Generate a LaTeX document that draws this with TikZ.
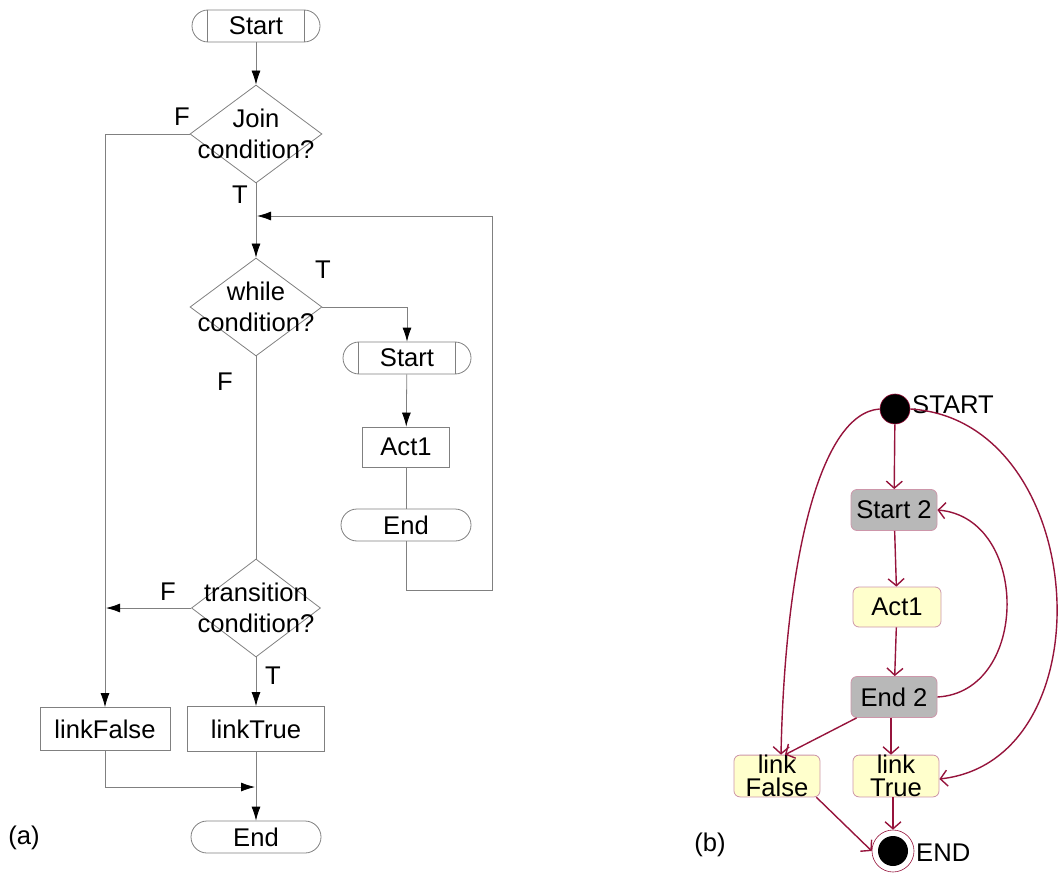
\documentclass[tikz,border=0pt]{standalone}
\usepackage{fontspec}
\setmainfont{Liberation Sans}
\usetikzlibrary{shapes.geometric,arrows.meta}
\definecolor{flowline}{RGB}{128,128,128}
\definecolor{edgered}{RGB}{150,20,60}
\definecolor{boxrim}{RGB}{205,150,170}
\definecolor{greyfill}{RGB}{184,184,184}
\definecolor{paleyellow}{RGB}{255,255,204}
\begin{document}
\begin{tikzpicture}[x=1pt,y=-1pt,
  font=\fontsize{25.6}{30}\selectfont,
  flow/.style={draw=flowline,line width=0.8pt},
  flowarrow/.style={flow,-{Latex[length=14pt,width=9pt,color=black]}},
  terminal/.style={flow,rectangle,rounded corners=16pt,minimum width=128pt,minimum height=32pt,inner sep=0pt},
  actbox/.style={flow,rectangle,inner sep=0pt},
  decision/.style={flow,diamond,inner sep=0pt,minimum width=132pt,minimum height=98pt},
  dtext/.style={align=center,inner sep=0pt,font=\fontsize{25.6}{31}\selectfont},
  flag/.style={inner sep=0pt},
  uedge/.style={draw=edgered,line width=1.4pt,-{Straight Barb[length=7pt,width=16pt,line width=1.4pt]}},
  state/.style={rectangle,rounded corners=6pt,draw=boxrim,line width=0.8pt,inner sep=0pt,minimum width=86pt,minimum height=41pt,align=center,font=\fontsize{25.6}{23}\selectfont},
  actstate/.style={state,fill=greyfill},
  linkstate/.style={state,fill=paleyellow}]
\useasboundingbox (0,0) rectangle (1060,877);

% ---------- (a) flowchart ----------
\node[terminal] (s1) at (256,26) {Start};
\draw[flow] ([xshift=16pt]s1.north west) -- ([xshift=16pt]s1.south west);
\draw[flow] ([xshift=-16pt]s1.north east) -- ([xshift=-16pt]s1.south east);

\node[decision] (join) at (256,134) {};
\node[dtext] at (join) {Join\\condition?};

\node[decision] (while) at (256,307) {};
\node[dtext] at (while) {while\\condition?};

\node[terminal] (s2) at (407,358) {Start};
\draw[flow] ([xshift=16pt]s2.north west) -- ([xshift=16pt]s2.south west);
\draw[flow] ([xshift=-16pt]s2.north east) -- ([xshift=-16pt]s2.south east);

\node[actbox,minimum width=87pt,minimum height=40pt] (act) at (406,447) {Act1};
\node[terminal,minimum width=130pt] (e1) at (406,525) {End};

\node[decision,minimum width=129pt] (trans) at (256,608) {};
\node[dtext] at (trans) {transition\\condition?};

\node[actbox,minimum width=130pt,minimum height=43pt] (lf) at (105,729) {linkFalse};
\node[actbox,minimum width=137pt,minimum height=45pt] (lt) at (256,729) {linkTrue};
\node[terminal,minimum width=130pt] (e2) at (256,837) {End};

\coordinate (loopA) at (492,590);
\coordinate (loopB) at (492,216);
\coordinate (loopIn) at (257,216);
\coordinate (fIn) at (106,608);
\coordinate (tIn) at (255,787);

\draw[flowarrow] (s1) -- (join);
\draw[flowarrow] (join.west) -| (lf.north);
\draw[flowarrow] (join) -- (while);
\draw[flowarrow] (while.east) -| (s2.north);
\draw[flowarrow] (s2) -- (act);
\draw[flow] (act) -- (e1);
\draw[flowarrow] (e1.south) |- (loopA) -- (loopB) -- (loopIn);
\draw[flow] (while) -- (trans);
\draw[flowarrow] (trans.west) -- (fIn);
\draw[flowarrow] (trans) -- (lt);
\draw[flowarrow] (lf.south) |- (tIn);
\draw[flowarrow] (lt) -- (e2);

\node[flag] (fj) at (182,117) {F};
\node[flag] (tj) at (240,195) {T};
\node[flag] (tw) at (323,270) {T};
\node[flag] (fw) at (225,382) {F};
\node[flag] (ft) at (168,592) {F};
\node[flag] (tt) at (273,676) {T};
\node[flag] (capA) at (24,838) {(a)};

% ---------- (b) state diagram ----------
\node[circle,fill=black,draw=edgered,line width=0.6pt,minimum size=30pt,inner sep=0pt] (start) at (895,409) {};
\node[anchor=west,inner sep=0pt] (startlbl) at (912,405) {START};

\node[actstate] (st2) at (894,510) {Start 2};
\node[linkstate,minimum width=88pt,minimum height=40pt] (a1) at (897,607) {Act1};
\node[actstate] (en2) at (894,697) {End 2};
\node[linkstate] (lfb) at (777,776) {link\\False};
\node[linkstate] (ltb) at (896,776) {link\\True};

\node[circle,fill=white,draw=edgered,line width=0.6pt,minimum size=42pt,inner sep=0pt] (fin) at (893,851) {};
\node[circle,fill=black,minimum size=30pt,inner sep=0pt] (fincore) at (fin) {};
\node[anchor=west,inner sep=0pt] (endlbl) at (916,853) {END};

\draw[uedge] (start) -- (st2);
\draw[uedge] (st2) -- (a1);
\draw[uedge] (a1) -- (en2);
\draw[uedge] (en2.south) ++(-3pt,0) coordinate (en2s) (en2s) -- (ltb.north -| en2s);
\draw[uedge] ([xshift=6pt]en2.south west) -- ([xshift=8pt]lfb.north);
\draw[uedge] (en2.east) .. controls (1030,692) and (1030,518) .. (st2.east);
\draw[uedge] (start.west) .. controls (820,413) and (785,560) .. ([xshift=4pt]lfb.north);
\draw[uedge] (start.east) .. controls (1090,420) and (1110,760) .. ([yshift=-3pt]ltb.east);
\draw[uedge] (lfb.south east) ++(-4pt,0) coordinate (lfbs) (lfbs) -- (fin.west);
\draw[uedge] (ltb.south -| fin.north) -- (fin.north);

\node[flag] (capB) at (710,845) {(b)};
\end{tikzpicture}
\end{document}
